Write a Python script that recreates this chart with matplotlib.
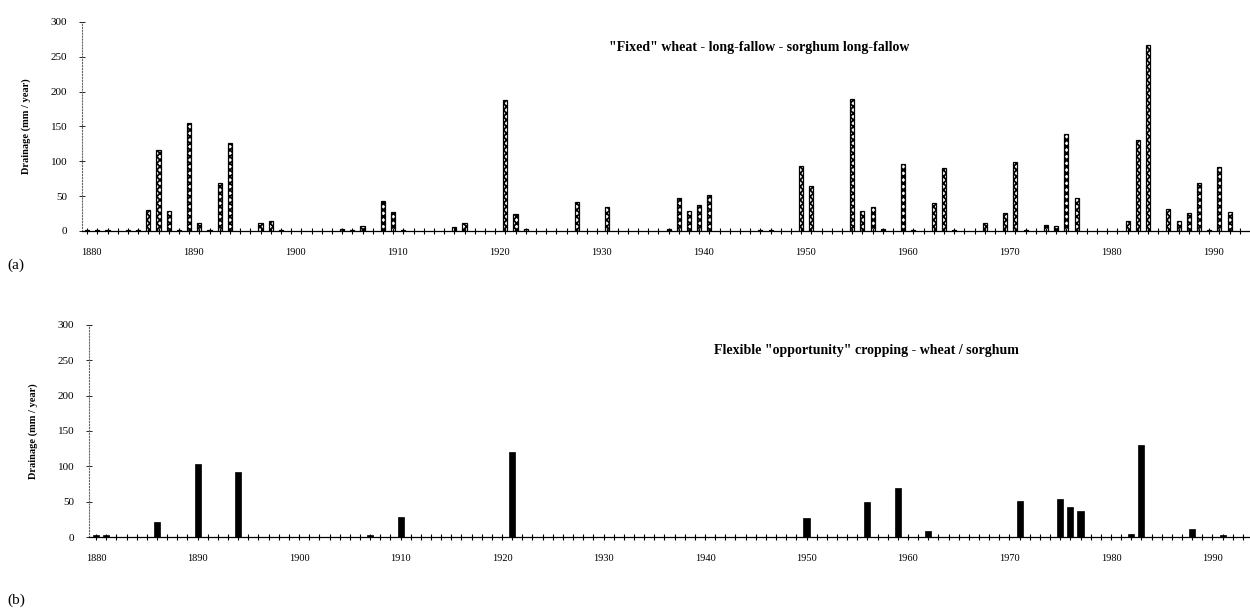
import matplotlib
matplotlib.use("Agg")
import matplotlib.pyplot as plt
import matplotlib.transforms as mtransforms

# (a) "fixed" rotation, drainage mm/year
years_a = [1880, 1881, 1882, 1884, 1885, 1886, 1887, 1888, 1889, 1890,
           1891, 1892, 1893, 1894, 1897, 1898, 1899, 1905, 1906, 1907,
           1909, 1910, 1911, 1916, 1917, 1921, 1922, 1923, 1928, 1931,
           1937, 1938, 1939, 1940, 1941, 1946, 1947, 1950, 1951, 1955,
           1956, 1957, 1958, 1960, 1961, 1963, 1964, 1965, 1968, 1970,
           1971, 1972, 1974, 1975, 1976, 1977, 1982, 1983, 1984, 1986,
           1987, 1988, 1989, 1990, 1991, 1992]
drain_a = [2, 1, 1, 1, 2, 30, 116, 28, 2, 155,
           12, 2, 69, 126, 12, 14, 2, 3, 2, 7,
           43, 27, 2, 6, 11, 188, 24, 3, 42, 35,
           3, 47, 28, 37, 52, 2, 2, 93, 65, 189,
           28, 34, 3, 96, 2, 40, 91, 2, 11, 26,
           99, 1, 9, 7, 139, 48, 15, 131, 267, 31,
           14, 26, 69, 2, 92, 27]

# (b) opportunity cropping
years_b = [1880, 1881, 1886, 1890, 1894, 1907, 1910, 1921, 1950, 1956,
           1959, 1962, 1971, 1975, 1976, 1977, 1982, 1983, 1988, 1991]
drain_b = [3, 3, 21, 103, 92, 3, 28, 120, 27, 50,
           69, 9, 51, 54, 42, 37, 4, 130, 11, 3]

decades = list(range(1880, 2000, 10))
yticks = [0, 50, 100, 150, 200, 250, 300]

title_a = '"Fixed" wheat - long-fallow - sorghum long-fallow'
title_b = 'Flexible "opportunity" cropping - wheat / sorghum'
ylab = 'Drainage (mm / year)'

plt.rcParams['font.family'] = ['Liberation Serif', 'DejaVu Serif']
plt.rcParams['hatch.linewidth'] = 1.3

fig = plt.figure(figsize=(12.5, 6.14), dpi=100)
ax1 = fig.add_axes([0.0656, 0.6238, 0.9344, 0.3404])
ax2 = fig.add_axes([0.0712, 0.1254, 0.9288, 0.3453])


def style(ax, xlim, shift):
    ax.set_xlim(xlim)
    ax.set_ylim(0, 300)
    for s in ['top', 'right']:
        ax.spines[s].set_visible(False)
    ax.spines['left'].set_linestyle(':')
    ax.spines['left'].set_color('#666666')
    ax.spines['left'].set_linewidth(0.8)
    ax.spines['bottom'].set_linewidth(0.9)
    ax.set_xticks(decades)
    ax.set_xticklabels([str(d) for d in decades])
    ax.set_xticks(range(1880, 1994), minor=True)
    ax.tick_params(axis='x', which='both', direction='inout', length=5,
                   width=0.8, labelsize=7.5, pad=10)
    ax.tick_params(axis='y', direction='inout', length=5, width=0.6,
                   labelsize=8, pad=8)
    ax.set_yticks(yticks)
    ax.set_ylabel(ylab, fontsize=7.5, fontweight='bold', labelpad=14)
    off = mtransforms.ScaledTranslation(shift / 100, 0, fig.dpi_scale_trans)
    for lbl in ax.get_xticklabels():
        lbl.set_transform(lbl.get_transform() + off)


ax1.bar(years_a, drain_a, width=0.4, color='white', edgecolor='black',
        hatch='xxxxx', linewidth=0.9)
style(ax1, (1879.5, 1994.0), 4)
ax1.text(0.58, 0.88, title_a, transform=ax1.transAxes, ha='center',
         va='center', fontsize=10, fontweight='bold')

ax2.bar(years_b, drain_b, width=0.6, color='black', edgecolor='black',
        linewidth=0.5)
style(ax2, (1879.3, 1993.7), 0)
ax2.text(0.67, 0.88, title_b, transform=ax2.transAxes, ha='center',
         va='center', fontsize=10, fontweight='bold')

fig.text(0.006, 1 - 265 / 614, '(a)', fontsize=11, va='center')
fig.text(0.006, 1 - 600 / 614, '(b)', fontsize=11, va='center')

fig.savefig('out.png', dpi=100, facecolor='white')
